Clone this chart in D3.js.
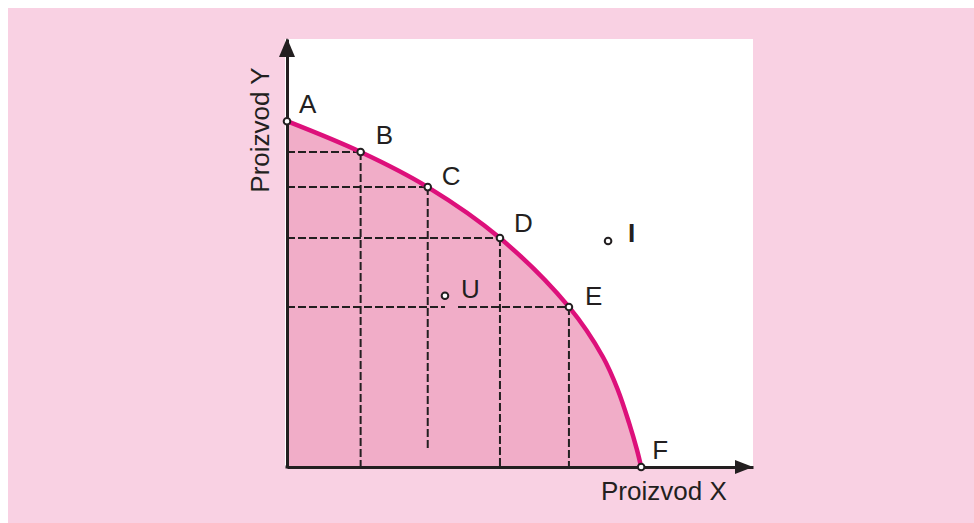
<!DOCTYPE html>
<html><head><meta charset="utf-8">
<script src="https://cdn.jsdelivr.net/npm/d3@7"></script>
<style>
html,body{margin:0;padding:0;background:#fff;}
svg{display:block;}
text{font-family:"Liberation Sans",Arial,sans-serif;fill:#231f20;}
</style></head><body>
<script>
// Production possibilities frontier (units: share of axis length, 0-100)
const frontierX = [0, 15.8, 30.2, 45.7, 60.5, 67.8, 71.0, 73.4, 75.1, 76.0];
const frontierY = [80.8, 73.6, 65.4, 53.5, 37.4, 25.7, 18.0, 10.3, 4.0, 0];

const pointNames = ["A", "B", "C", "D", "E", "F"];
const pointX = [0, 15.8, 30.2, 45.7, 60.5, 76.0];
const pointY = [80.8, 73.6, 65.4, 53.5, 37.4, 0];

const otherNames = ["U", "I"];
const otherX = [33.9, 68.9];
const otherY = [40.0, 52.8];

// dashed guides: [x1, y1, x2, y2]
const guides = [
  [0, 73.6, 15.8, 73.6], [15.8, 73.6, 15.8, 0],
  [0, 65.4, 30.2, 65.4], [30.2, 65.4, 30.2, 4.4],
  [0, 53.5, 45.7, 53.5], [45.7, 53.5, 45.7, 0],
  [0, 37.4, 33.9, 37.4], [36.7, 37.4, 60.5, 37.4], [60.5, 37.4, 60.5, 0]
];

const xLabel = "Proizvod X";
const yLabel = "Proizvod Y";

const W = 974, H = 523;
const svg = d3.select("body").append("svg").attr("width", W).attr("height", H);

svg.append("rect").attr("x", 8).attr("y", 8).attr("width", W - 8).attr("height", H - 8).attr("fill", "#f9d1e3");

const x = d3.scaleLinear().domain([0, 100]).range([287, 753]);
const y = d3.scaleLinear().domain([0, 100]).range([467, 39]);

svg.append("rect").attr("x", 285).attr("y", 39).attr("width", 753 - 285).attr("height", 467 - 39).attr("fill", "#fff");

const fr = frontierX.map((v, i) => [v, frontierY[i]]);
const curve = d3.curveCatmullRom.alpha(0.5);

svg.append("path")
  .attr("d", d3.area().x(d => x(d[0])).y0(y(0)).y1(d => y(d[1])).curve(curve)(fr))
  .attr("fill", "#f1adc8");

// guides
svg.append("g").selectAll("line").data(guides).join("line")
  .attr("x1", d => x(d[0])).attr("y1", d => y(d[1]))
  .attr("x2", d => x(d[2])).attr("y2", d => y(d[3]))
  .attr("stroke", "#231f20").attr("stroke-width", 2).attr("stroke-dasharray", "8,3");

// axes (no ticks)
const xAxis = svg.append("g").attr("transform", `translate(0,${y(0)})`)
  .call(d3.axisBottom(x).tickValues([]).tickSizeOuter(0));
const yAxis = svg.append("g").attr("transform", `translate(${x(0)},0)`)
  .call(d3.axisLeft(y).tickValues([]).tickSizeOuter(0));
[xAxis, yAxis].forEach(g => g.select(".domain").attr("stroke", "#231f20").attr("stroke-width", 3));
svg.append("line").attr("x1", x(0) - 1.5).attr("x2", x(0) + 1).attr("y1", y(0)).attr("y2", y(0))
  .attr("stroke", "#231f20").attr("stroke-width", 3);

// arrowheads
svg.append("path").attr("d", `M${x(100)},${y(0)} L${x(100) - 18},${y(0) - 7} L${x(100) - 18},${y(0) + 7} Z`).attr("fill", "#231f20");
svg.append("path").attr("d", `M${x(0)},${y(100) - 1} L${x(0) - 8},${y(100) + 18} L${x(0) + 8},${y(100) + 18} Z`).attr("fill", "#231f20");

// frontier curve
svg.append("path")
  .attr("d", d3.line().x(d => x(d[0])).y(d => y(d[1])).curve(curve)(fr))
  .attr("fill", "none").attr("stroke", "#dd107b").attr("stroke-width", 4.5);

// points
const pts = pointNames.map((n, i) => ({n, x: pointX[i], y: pointY[i]}))
  .concat(otherNames.map((n, i) => ({n, x: otherX[i], y: otherY[i]})));
svg.append("g").selectAll("circle").data(pts).join("circle")
  .attr("cx", d => x(d.x)).attr("cy", d => y(d.y)).attr("r", 3.3)
  .attr("fill", "#fff").attr("stroke", "#231f20").attr("stroke-width", 2);

// point labels (offsets from point)
const labelOff = {A: [12, -8], B: [15, -8], C: [14, -2], D: [14, -6], E: [16, -2], F: [11, -8], U: [16, 2], I: [20, 1]};
svg.append("g").selectAll("text").data(pts).join("text")
  .attr("x", d => x(d.x) + labelOff[d.n][0]).attr("y", d => y(d.y) + labelOff[d.n][1])
  .attr("font-size", 26)
  .attr("font-weight", d => d.n === "I" ? "bold" : "normal")
  .text(d => d.n);

svg.append("text").attr("x", 601).attr("y", 500).attr("font-size", 26).text(xLabel);
svg.append("text").attr("transform", "translate(269,130) rotate(-90)").attr("text-anchor", "middle")
  .attr("font-size", 26).text(yLabel);
</script>
</body></html>
